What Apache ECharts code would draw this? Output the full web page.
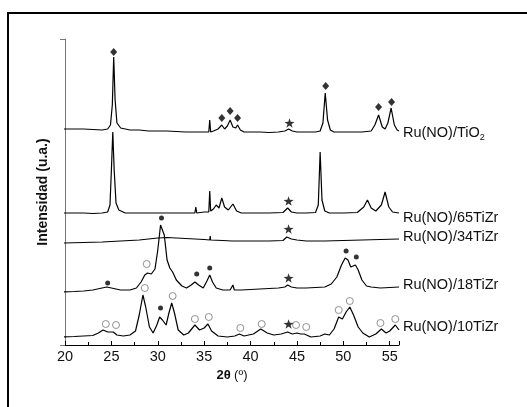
<!DOCTYPE html>
<html>
<head>
<meta charset="utf-8">
<script src="https://cdn.jsdelivr.net/npm/echarts@6/dist/echarts.min.js"></script>
<style>
  html, body { margin: 0; padding: 0; background: #fff; }
  #main { width: 527px; height: 407px; }
</style>
</head>
<body>
<div id="main"></div>
<script>
// XRD patterns, stacked (intensity already offset per sample), [2theta, intensity]
var tio2 = [[19.8,216],[21,216],[22,216],[23,215.5],[24,215],[24.6,216],[24.9,220],[25.1,240],[25.25,288],[25.4,245],[25.6,222],[26,217],[27,215],[28,215],[29,214],[30,214],[31,214],[32,213.5],[33,213],[34,213],[35,213],[35.5,213],[35.6,225],[35.7,213],[36,214],[36.5,216],[36.9,220],[37.2,216],[37.5,219],[37.8,225],[38.1,218],[38.4,217],[38.6,220],[38.9,215],[39.3,213],[40,213],[41,213],[42,212.5],[43,213],[43.7,214],[44.1,216],[44.5,214],[45,213],[46,213],[47,213],[47.5,214],[47.8,222],[48.05,252],[48.3,225],[48.6,215],[49,213],[50,213],[51,213],[52,213],[53,214],[53.4,220],[53.8,230],[54.2,218],[54.5,216],[54.8,222],[55.15,237],[55.5,220],[55.8,215],[56,214]];

var ti65 = [[19.8,132],[21,132],[22,132],[23,131.5],[24,132],[24.6,133],[24.85,140],[25.0,175],[25.15,213],[25.3,175],[25.5,142],[25.8,135],[26.5,132],[28,132],[30,132],[32,132],[33.5,132],[34.0,132],[34.1,138],[34.2,132],[35,133],[35.5,133],[35.6,154],[35.7,134],[36,136],[36.3,140],[36.6,137],[36.9,147],[37.2,138],[37.6,135],[38.1,141],[38.5,134],[39,132],[40,132],[42,132],[43.5,132.5],[44.0,137],[44.4,133],[45,132],[46,132],[47,132.5],[47.3,140],[47.5,193],[47.7,145],[48.0,134],[48.5,132],[50,132],[51.5,132.5],[52.2,138],[52.6,145],[53.0,137],[53.5,134],[54.1,140],[54.5,153],[54.9,138],[55.3,133],[56,132]];

var ti34 = [[19.8,102],[22,102.5],[24,103],[26,104],[28,105],[29,106],[30,107],[31,107.5],[32,107],[33,106.5],[34,106],[35,105.5],[35.6,105],[35.65,109],[35.7,105],[37,104.5],[38,104],[38.1,106],[38.2,104],[40,104],[42,104],[43.5,104.5],[43.9,108],[44.1,109],[44.4,106],[45,105],[46,104],[48,104],[50,104.5],[52,105],[54,105.5],[56,106]];

var ti18 = [[19.8,53],[21,53.5],[22,54],[23,55],[24,57],[24.5,58],[25,57],[26,55],[27,55],[27.7,57],[28.2,63],[28.6,70],[28.9,72],[29.3,71],[29.7,76],[30.0,95],[30.3,120],[30.45,122],[30.7,110],[31.0,85],[31.3,77],[31.6,73],[32.0,65],[32.6,59],[33.1,57],[33.6,60],[34.0,63],[34.4,60],[34.9,57],[35.3,64],[35.6,70],[35.9,63],[36.3,57],[37,55],[37.8,55],[38.1,60],[38.25,55],[39,55],[40,55.5],[41,56],[42,56.5],[43,57],[43.7,58],[44.0,60],[44.4,58],[45,57],[46,57],[47,57.5],[48,58],[48.7,61],[49.3,68],[49.8,80],[50.2,87],[50.5,85],[50.8,78],[51.3,80],[51.6,75],[52.0,65],[52.5,59],[53,58],[54,57],[55,57.5],[56,58]];

var ti10 = [[19.8,8],[21,8.5],[22,9],[23,9.5],[23.6,12],[24.1,15],[24.6,13],[25.2,13],[25.6,10],[26.3,9],[27.0,10],[27.6,14],[28.0,30],[28.4,50],[28.7,38],[29.1,18],[29.5,12],[29.9,20],[30.2,28],[30.5,25],[30.9,20],[31.2,32],[31.5,42],[31.8,32],[32.2,15],[32.8,10],[33.3,12],[34.0,20],[34.5,15],[35.0,17],[35.4,21],[35.8,14],[36.5,9],[37.5,8],[38.3,9],[38.8,11],[39.3,9],[40.3,11],[41.1,16],[41.8,12],[42.5,10],[43.3,11],[44.0,13],[44.5,11],[45.0,12],[45.4,11],[45.8,11],[46.5,8],[47.5,9],[48.0,11],[48.5,10],[49.0,16],[49.5,28],[49.9,26],[50.3,33],[50.7,38],[51.1,30],[51.6,18],[52.1,12],[52.8,8],[53.5,11],[54.1,16],[54.6,12],[55.0,14],[55.6,20],[56.0,15]];

// phase markers
var anatase = [[25.25,293],[36.9,227],[37.8,234],[38.6,227],[48.1,259],[53.8,238],[55.2,243]];
var dots = [[24.6,62],[30.4,127],[34.2,71],[35.6,77],[50.3,94],[51.4,88],[30.3,37]];
var rings = [[28.8,81],[24.4,21],[25.5,20],[28.6,57],[31.6,49],[34.0,26],[35.5,28],[38.9,17],[41.2,21],[44.9,20],[46.0,18],[49.5,35],[50.7,44],[54.0,22],[55.6,26]];
var stars = [[44.2,222],[44.1,144],[44.1,116],[44.1,67],[44.1,21]];

var names = ['Ru(NO)/TiO2', 'Ru(NO)/65TiZr', 'Ru(NO)/34TiZr', 'Ru(NO)/18TiZr', 'Ru(NO)/10TiZr'];
var traces = [tio2, ti65, ti34, ti18, ti10];
var labelShift = [2, 5, -2, -2, -3];

var font = '"Liberation Sans", Arial, sans-serif';
var chart = echarts.init(document.getElementById('main'));

var series = traces.map(function (d, i) {
    return {
        name: names[i],
        type: 'line',
        data: d,
        showSymbol: false,
        symbol: 'none',
        lineStyle: { color: '#000', width: 1.2 },
        z: 3,
        endLabel: {
            show: true,
            distance: 4,
            offset: [0, labelShift[i]],
            color: '#111',
            fontFamily: font,
            fontSize: 14.5,
            formatter: i === 0 ? '{a|Ru(NO)/TiO}{s|2}' : names[i],
            rich: {
                a: { fontSize: 14.5, fontFamily: font, color: '#111' },
                s: { fontSize: 9, fontFamily: font, color: '#111', padding: [10, 0, 0, 0] }
            }
        }
    };
});

series.push({
    type: 'scatter', data: anatase, symbol: 'diamond', symbolSize: [7, 8],
    itemStyle: { color: '#000' }, z: 4
});
series.push({
    type: 'scatter', data: dots, symbol: 'circle', symbolSize: 5,
    itemStyle: { color: '#000' }, z: 4
});
series.push({
    type: 'scatter', data: rings, symbol: 'circle', symbolSize: 7,
    itemStyle: { color: '#fff', borderColor: '#777', borderWidth: 1 }, z: 4
});
series.push({
    type: 'scatter', data: stars,
    symbol: 'path://M0,-10 L2.35,-3.24 L9.51,-3.09 L3.8,1.24 L5.88,8.09 L0,4 L-5.88,8.09 L-3.8,1.24 L-9.51,-3.09 L-2.35,-3.24 Z',
    symbolSize: [10, 10], symbolKeepAspect: true,
    itemStyle: { color: '#000' }, z: 4
});

var option = {
    animation: false,
    backgroundColor: '#fff',
    grid: { left: 65, right: 128, top: 39, bottom: 62 },
    xAxis: {
        type: 'value',
        min: 20, max: 56, interval: 5,
        name: '{b|2θ} {n|(º)}',
        nameLocation: 'middle',
        nameGap: 23,
        nameTextStyle: {
            rich: {
                b: { fontWeight: 'bold', fontSize: 13, fontFamily: font, color: '#111' },
                n: { fontSize: 13, fontFamily: font, color: '#111' }
            }
        },
        axisLine: { lineStyle: { color: '#000', width: 1 } },
        axisTick: { inside: true, length: 4, lineStyle: { color: '#000' } },
        minorTick: { show: true, splitNumber: 2, length: 3, lineStyle: { color: '#000' } },
        axisLabel: {
            margin: 4, fontSize: 14.5, fontFamily: font, color: '#111',
            formatter: function (v) { return v % 5 === 0 ? v : ''; }
        },
        splitLine: { show: false }
    },
    yAxis: {
        type: 'value',
        min: 0, max: 306, interval: 306,
        name: 'Intensidad (u.a.)',
        nameLocation: 'middle',
        nameGap: 15,
        nameTextStyle: { fontWeight: 'bold', fontSize: 14, fontFamily: font, color: '#111' },
        axisLine: { show: true, lineStyle: { color: '#777', width: 1 } },
        axisTick: { show: true, inside: false, length: 5, lineStyle: { color: '#777' } },
        axisLabel: { show: false },
        splitLine: { show: false }
    },
    graphic: [{
        type: 'rect',
        shape: { x: 8, y: 13, width: 600, height: 500 },
        style: { fill: 'none', stroke: '#000', lineWidth: 2 },
        silent: true
    }],
    series: series
};

chart.setOption(option);
</script>
</body>
</html>
